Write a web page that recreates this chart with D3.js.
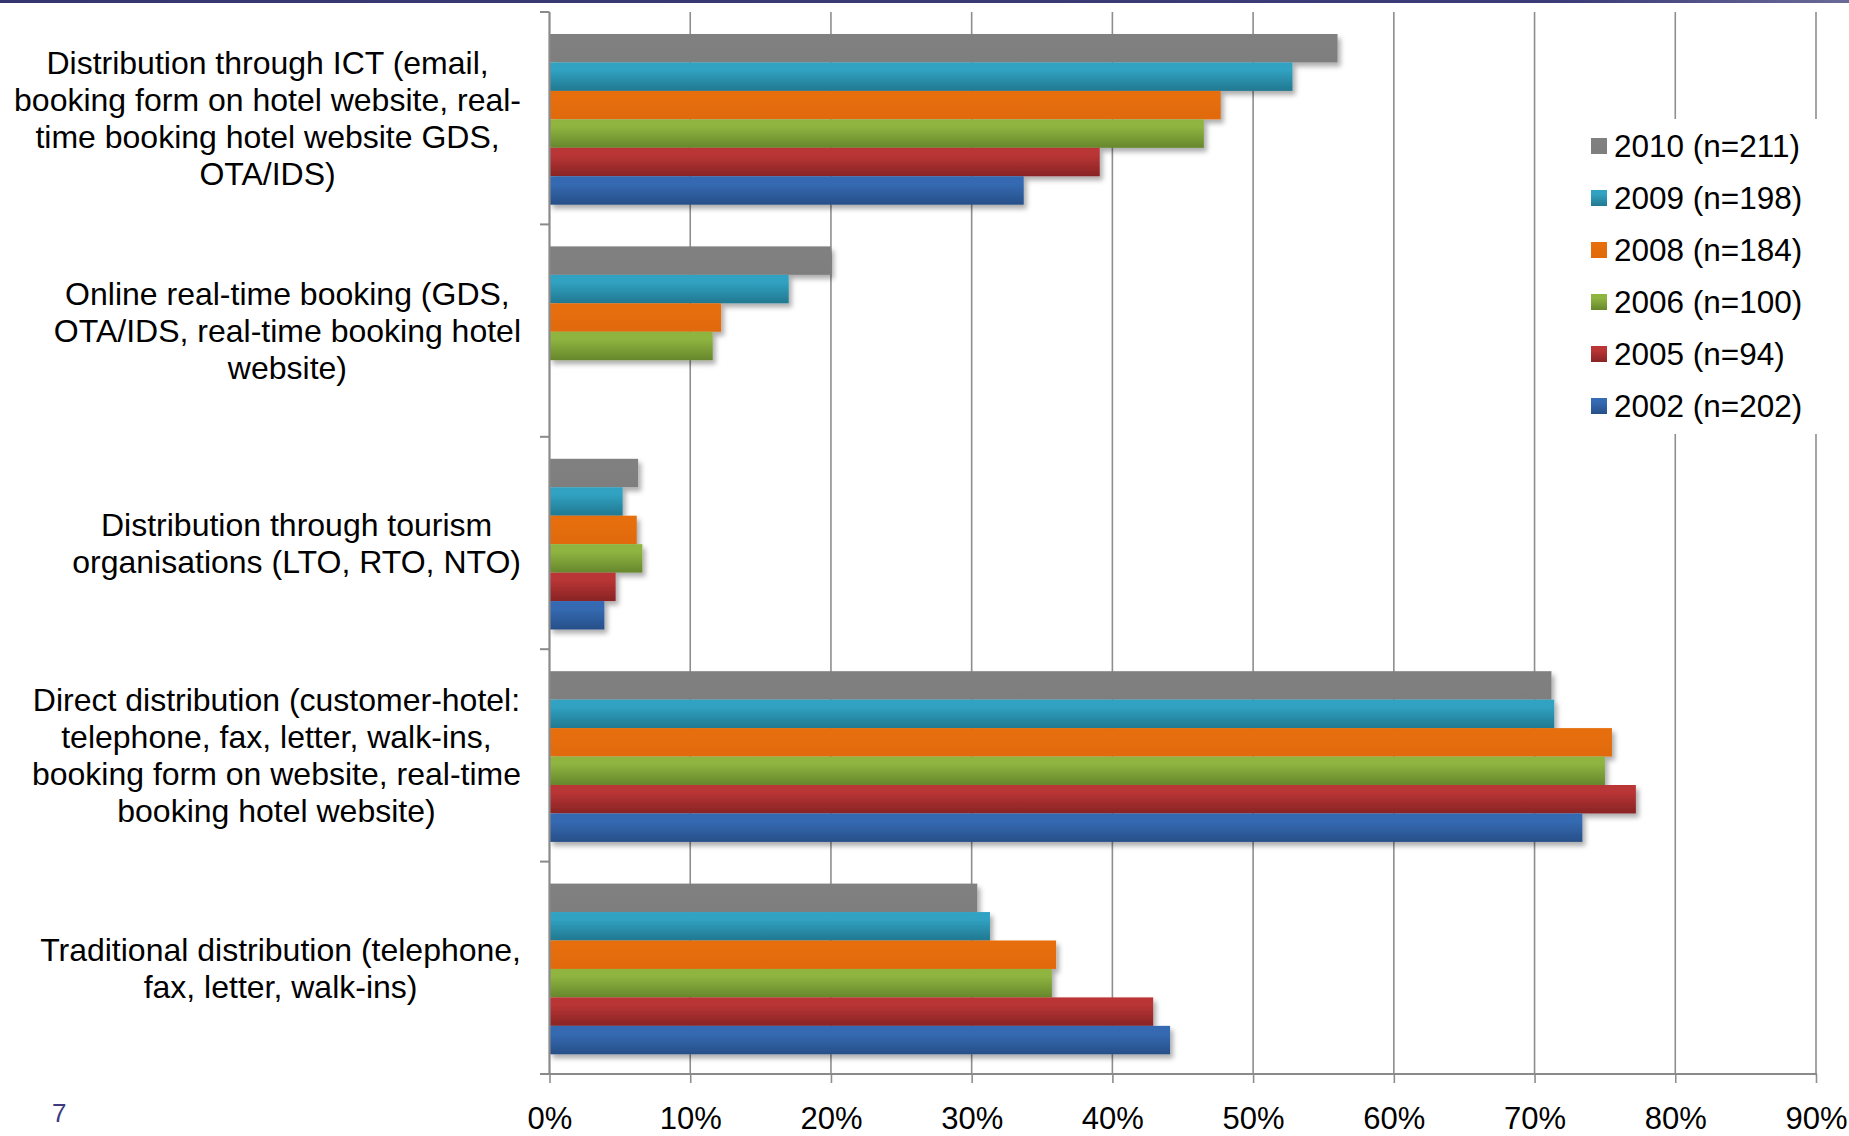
<!DOCTYPE html>
<html>
<head>
<meta charset="utf-8">
<script src="https://cdn.jsdelivr.net/npm/d3@7"></script>
<style>
  html, body { margin: 0; padding: 0; background: #ffffff; }
  svg { display: block; font-family: "Liberation Sans", Arial, Helvetica, sans-serif; }
</style>
</head>
<body>
<svg id="chart" width="1849" height="1136"></svg>
<script>
// Distribution channels used by hotels, share of respondents per survey year
const categories = [
  ["Distribution through ICT (email,", "booking form on hotel website, real-", "time booking hotel website GDS,", "OTA/IDS)"],
  ["Online real-time booking (GDS,", "OTA/IDS, real-time booking hotel", "website)"],
  ["Distribution through tourism", "organisations (LTO, RTO, NTO)"],
  ["Direct distribution (customer-hotel:", "telephone, fax, letter, walk-ins,", "booking form on website, real-time", "booking hotel website)"],
  ["Traditional distribution (telephone,", "fax, letter, walk-ins)"]
];

const seriesNames = ["2010 (n=211)", "2009 (n=198)", "2008 (n=184)", "2006 (n=100)", "2005 (n=94)", "2002 (n=202)"];

const values2010 = [0.560, 0.200, 0.063, 0.712, 0.304];
const values2009 = [0.528, 0.170, 0.052, 0.714, 0.313];
const values2008 = [0.477, 0.122, 0.062, 0.755, 0.360];
const values2006 = [0.465, 0.116, 0.066, 0.750, 0.357];
const values2005 = [0.391, null, 0.047, 0.772, 0.429];
const values2002 = [0.337, null, 0.039, 0.734, 0.441];

const tickValues = [0, 0.1, 0.2, 0.3, 0.4, 0.5, 0.6, 0.7, 0.8, 0.9];

// top / bottom shades of each series' bar gradient
const seriesTop    = ["#808080", "#31a2c2", "#e66e0b", "#8fb541", "#ba3535", "#356bb3"];
const seriesBottom = ["#7e7e7e", "#217890", "#e06a0a", "#66872c", "#882425", "#274f88"];

const seriesValues = [values2010, values2009, values2008, values2006, values2005, values2002];

const svg = d3.select("#chart");
const W = 1849, H = 1136;

const plot = { left: 549.5, right: 1816, top: 12, bottom: 1074 };

const x = d3.scaleLinear().domain([0, 0.9]).range([plot.left, plot.right]);
const y0 = d3.scaleBand().domain(d3.range(categories.length)).range([plot.top, plot.bottom]).padding(0);
const y1 = d3.scaleBand().domain(d3.range(seriesNames.length)).range([22, 192.7]).padding(0);

const defs = svg.append("defs");

// header rule
const hdr = defs.append("linearGradient").attr("id", "hdr").attr("x1", 0).attr("x2", 1).attr("y1", 0).attr("y2", 0);
hdr.append("stop").attr("offset", 0).attr("stop-color", "#36366f");
hdr.append("stop").attr("offset", 0.85).attr("stop-color", "#3c3c78");
hdr.append("stop").attr("offset", 1).attr("stop-color", "#6a6a98");

seriesNames.forEach((s, i) => {
  const g = defs.append("linearGradient").attr("id", "grad" + i)
    .attr("x1", 0).attr("x2", 0).attr("y1", 0).attr("y2", 1);
  g.append("stop").attr("offset", 0).attr("stop-color", seriesTop[i]);
  g.append("stop").attr("offset", 0.25).attr("stop-color", seriesTop[i]);
  g.append("stop").attr("offset", 1).attr("stop-color", seriesBottom[i]);
});

const shadow = defs.append("filter").attr("id", "shadow")
  .attr("filterUnits", "userSpaceOnUse").attr("x", 0).attr("y", 0).attr("width", W).attr("height", H);
shadow.append("feDropShadow").attr("dx", 3).attr("dy", 4).attr("stdDeviation", 2.5)
  .attr("flood-color", "#000").attr("flood-opacity", 0.32);

svg.append("rect").attr("x", 0).attr("y", 0).attr("width", W).attr("height", 3).attr("fill", "url(#hdr)");

// vertical gridlines
svg.append("g").selectAll("line").data(tickValues.slice(1)).join("line")
  .attr("x1", d => x(d)).attr("x2", d => x(d))
  .attr("y1", plot.top).attr("y2", plot.bottom)
  .attr("stroke", "#8e8e8e").attr("stroke-width", 1.6);

// bars
const groups = svg.append("g").selectAll("g.cat").data(categories).join("g")
  .attr("class", "cat")
  .attr("filter", "url(#shadow)");

groups.each(function (c, ci) {
  const rows = seriesValues.map((vals, si) => ({ si, v: vals[ci] })).filter(d => d.v != null);
  d3.select(this).selectAll("rect").data(rows).join("rect")
    .attr("x", x(0))
    .attr("y", d => y0(ci) + y1(d.si))
    .attr("width", d => x(d.v) - x(0))
    .attr("height", y1.bandwidth())
    .attr("fill", d => "url(#grad" + d.si + ")");
});

// x axis
const xAxis = d3.axisBottom(x).tickValues(tickValues).tickFormat(d3.format(".0%"))
  .tickSizeInner(9).tickSizeOuter(0).tickPadding(24);
const xg = svg.append("g").attr("transform", `translate(0,${plot.bottom})`).call(xAxis);
xg.select(".domain").remove();
xg.selectAll(".tick line").attr("stroke", "#8e8e8e").attr("stroke-width", 1.6);
xg.selectAll(".tick text").attr("fill", "#000").attr("font-size", 31)
  .attr("font-family", "'Liberation Sans', Arial, sans-serif");
svg.append("line").attr("x1", 540).attr("x2", plot.right + 1).attr("y1", plot.bottom).attr("y2", plot.bottom)
  .attr("stroke", "#8a8a8a").attr("stroke-width", 2.2);

// y axis with ticks at category boundaries
const bounds = categories.map((c, i) => y0(i)).concat([plot.bottom]);
svg.append("line").attr("x1", plot.left).attr("x2", plot.left).attr("y1", plot.top).attr("y2", plot.bottom)
  .attr("stroke", "#8a8a8a").attr("stroke-width", 2.2);
svg.append("g").selectAll("line").data(bounds).join("line")
  .attr("x1", 540).attr("x2", plot.left).attr("y1", d => d).attr("y2", d => d)
  .attr("stroke", "#8a8a8a").attr("stroke-width", 2);

// category labels: centred lines, block aligned to the axis
const labelRight = 521, lineH = 37, fs = 32;
categories.forEach((lines, ci) => {
  const g = svg.append("g");
  const cy = y0(ci) + y0.bandwidth() / 2;
  const texts = lines.map((ln, li) => g.append("text")
    .attr("y", cy + (li - (lines.length - 1) / 2) * lineH)
    .attr("dy", "0.35em")
    .attr("font-size", fs).attr("fill", "#000")
    .attr("text-anchor", "middle").text(ln));
  const maxW = d3.max(texts, t => t.node().getComputedTextLength());
  texts.forEach(t => t.attr("x", labelRight - maxW / 2));
});

// legend
const leg = svg.append("g");
leg.append("rect").attr("x", 1578).attr("y", 119).attr("width", 260).attr("height", 315).attr("fill", "#fff");
seriesNames.forEach((s, i) => {
  const cy = 146 + i * 52;
  leg.append("rect").attr("x", 1591).attr("y", cy - 8).attr("width", 16).attr("height", 16)
    .attr("fill", "url(#grad" + i + ")");
  leg.append("text").attr("x", 1614).attr("y", cy).attr("dy", "0.36em")
    .attr("font-size", 31.5).attr("fill", "#000").text(s);
});

// slide number
svg.append("text").attr("x", 52).attr("y", 1122).attr("font-size", 26).attr("fill", "#3d3a80").text("7");
</script>
</body>
</html>
